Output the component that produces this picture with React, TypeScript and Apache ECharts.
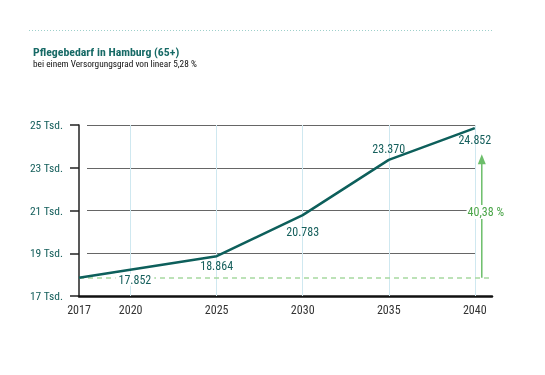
import React, { useEffect, useRef } from "react";
import * as echarts from "echarts";

const years = [2017, 2025, 2030, 2035, 2040];
const values = [17852, 18864, 20783, 23370, 24852];
const yearTickLabels = [2017, 2020, 2025, 2030, 2035, 2040];
const verticalGridYears = [2020, 2025, 2030, 2035, 2040];
const baseValue = 17852;
const growthLabel = "40,38 %";
const titleText = "Pflegebedarf in Hamburg (65+)";
const subtitleText = "bei einem Versorgungsgrad von linear 5,28 %";

const FONT = "'Roboto Condensed', 'DejaVu Sans Condensed', sans-serif";
const TEAL = "#0d5f5b";
const TEAL_TEXT = "#17605d";
const GREEN = "#6cbe6a";
const GREEN_TEXT = "#4aa548";
const GREEN_DASH = "#a6d9a0";
const VGRID = "#cfe8f0";

const fmt = (v: number) => Math.floor(v / 1000) + "." + String(v % 1000).padStart(3, "0");

const labelCfg: any[] = [
  { position: "right", offset: [31, 2], backgroundColor: "#fff", padding: [0, 3] },
  { position: "bottom", distance: 3 },
  { position: "bottom", distance: 10 },
  { position: "top", distance: 4 },
  { position: "bottom", distance: 5 },
];

export default function App() {
  const ref = useRef<HTMLDivElement>(null);
  useEffect(() => {
    if (!ref.current) return;
    const chart = echarts.init(ref.current, null, { renderer: "svg" });
    const grid0 = { left: 79, right: 53, top: 125, bottom: 79 };
    const grid1 = { left: 87, right: 70, top: 125, bottom: 79 };
    chart.setOption({
      animation: false,
      textStyle: { fontFamily: FONT },
      title: {
        text: titleText,
        subtext: subtitleText,
        left: 28,
        top: 41,
        itemGap: 1,
        textStyle: { fontFamily: FONT, fontSize: 11.8, fontWeight: "bold", color: "#176a66" },
        subtextStyle: { fontFamily: FONT, fontSize: 9.3, color: "#111" },
      },
      grid: [grid0, grid1],
      xAxis: [
        {
          type: "value",
          gridIndex: 0,
          min: 2017,
          max: 2041,
          axisLine: { show: true, lineStyle: { color: "#111", width: 2.5 } },
          axisTick: { show: false },
          splitLine: { show: false },
          axisLabel: {
            customValues: yearTickLabels,
            formatter: (v: number) => String(v),
            color: "#333",
            fontSize: 12,
            fontFamily: FONT,
            margin: 8,
          },
        },
        { type: "value", gridIndex: 1, min: 2017, max: 2040, show: false },
      ],
      yAxis: [
        {
          type: "value",
          gridIndex: 0,
          min: 17000,
          max: 25000,
          interval: 2000,
          axisLine: { show: true, lineStyle: { color: "#222", width: 1.5 } },
          axisTick: { show: true, inside: false, length: 9, lineStyle: { color: "#222", width: 1.5 } },
          splitLine: { show: false },
          axisLabel: {
            formatter: (v: number) => v / 1000 + " Tsd.",
            color: TEAL_TEXT,
            fontSize: 11.5,
            fontFamily: FONT,
            margin: 16,
          },
        },
        {
          type: "value",
          gridIndex: 1,
          min: 17000,
          max: 25000,
          interval: 2000,
          axisLine: { show: false },
          axisTick: { show: false },
          axisLabel: { show: false },
          splitLine: { show: true, lineStyle: { color: "#666", width: 1 } },
        },
      ],
      series: [
        {
          type: "line",
          xAxisIndex: 0,
          yAxisIndex: 0,
          z: 3,
          data: years.map((y, i) => ({ value: [y, values[i]], label: labelCfg[i] })),
          showSymbol: true,
          symbol: "circle",
          symbolSize: 1,
          itemStyle: { color: "rgba(0,0,0,0)" },
          lineStyle: { color: TEAL, width: 2.5 },
          label: {
            show: true,
            formatter: (p: any) => fmt(p.value[1]),
            color: TEAL_TEXT,
            fontSize: 12,
            fontFamily: FONT,
          },
          markLine: {
            silent: true,
            z: 1,
            symbol: ["none", "none"],
            label: { show: false },
            data: [
              ...verticalGridYears.map((y) => ({ xAxis: y, lineStyle: { color: VGRID, width: 1, type: "solid" } })),
              { yAxis: baseValue, lineStyle: { color: GREEN_DASH, width: 1.5, type: [5, 4] } },
            ],
          },
        },
      ],
    });

    const pBase = chart.convertToPixel({ xAxisIndex: 0, yAxisIndex: 0 }, [2040, baseValue]) as number[];
    const pTop = chart.convertToPixel({ xAxisIndex: 0, yAxisIndex: 0 }, [2040, values[values.length - 1]]) as number[];
    const ax = pBase[0] + 7;
    const y0 = pBase[1];
    const tip = pTop[1] + 26;
    chart.setOption({
      graphic: [
        {
          type: "line",
          shape: { x1: 29, y1: 30.5, x2: 494, y2: 30.5 },
          style: { stroke: "#9ed0cb", lineWidth: 1, lineDash: [1, 2] },
        },
        {
          type: "line",
          shape: { x1: ax, y1: y0, x2: ax, y2: tip + 8 },
          style: { stroke: GREEN, lineWidth: 1.5 },
          z: 10,
        },
        {
          type: "polygon",
          shape: { points: [[ax, tip], [ax - 4, tip + 10], [ax + 4, tip + 10]] },
          style: { fill: GREEN },
          z: 10,
        },
        {
          type: "text",
          x: ax + 4,
          y: (y0 + tip) / 2 - 4,
          z: 11,
          style: {
            text: growthLabel,
            fill: GREEN_TEXT,
            fontSize: 12,
            fontFamily: FONT,
            align: "center",
            verticalAlign: "middle",
            backgroundColor: "#fff",
            padding: [1, 1],
          },
        },
      ],
    });
    return () => chart.dispose();
  }, []);
  return <div ref={ref} style={{ position: "fixed", left: 0, top: 0, width: 545, height: 375 }} />;
}
